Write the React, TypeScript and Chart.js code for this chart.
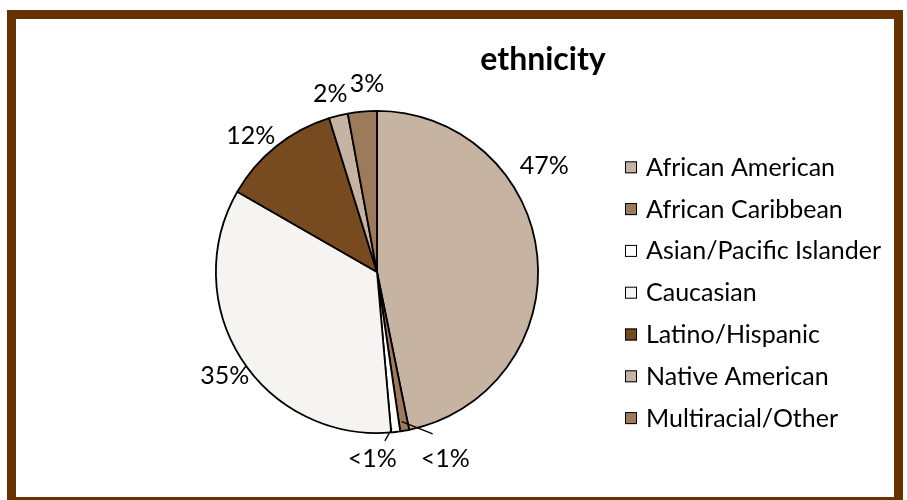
import React, { useEffect, useRef } from "react";
import { Chart, registerables } from "chart.js";

Chart.register(...registerables);

// ---- data ----
const chartTitle = "ethnicity";
const categories = [
  "African American",
  "African Caribbean",
  "Asian/Pacific Islander",
  "Caucasian",
  "Latino/Hispanic",
  "Native American",
  "Multiracial/Other",
];
const shares = [46.8, 0.9, 0.9, 34.7, 11.9, 1.9, 2.9];
const sliceColors = ["#C6B3A2", "#9C7A5B", "#FFFFFF", "#F6F4F1", "#774A1F", "#C6B3A2", "#9C7A5B"];

// ---- layout / styling ----
const FONT = "Lato, 'DejaVu Sans', sans-serif";
// [angle offset from slice middle (deg), extra distance beyond radius (px)]
const labelLayout: [number, number][] = [
  [-26.8, 37.5],
  [-10.3, 36.7],
  [8.1, 24.6],
  [-1.5, 22.7],
  [-4.0, 25],
  [-0.8, 23.5],
  [2.2, 27.8],
];
// leader lines: [startAngleOffset, startDr, endAngleOffset, endDr] or null
const leaders: ([number, number, number, number] | null)[] = [
  null,
  [0.5, -9.5, -9.1, 10],
  [1.2, -4, 4, 8],
  null,
  null,
  null,
  null,
];

function pctLabel(v: number, total: number): string {
  const p = (v / total) * 100;
  return p < 1 ? "<1%" : Math.round(p) + "%";
}

const overlayPlugin = {
  id: "overlay",
  afterDraw(chart: any) {
    const ctx: CanvasRenderingContext2D = chart.ctx;
    const meta = chart.getDatasetMeta(0);
    const data = chart.data.datasets[0].data as number[];
    const total = data.reduce((a, b) => a + b, 0);
    ctx.save();

    // title
    ctx.fillStyle = "#000";
    ctx.font = `bold 32px ${FONT}`;
    ctx.textAlign = "center";
    ctx.textBaseline = "alphabetic";
    ctx.fillText(chartTitle, 543, 70);

    // percentage labels
    ctx.font = `25px ${FONT}`;
    meta.data.forEach((arc: any, i: number) => {
      const { x, y, startAngle, endAngle, outerRadius } = arc.getProps(
        ["x", "y", "startAngle", "endAngle", "outerRadius"],
        true
      );
      const mid = (startAngle + endAngle) / 2;
      const [dA, dR] = labelLayout[i];
      const a = mid + (dA * Math.PI) / 180;
      const r = outerRadius + dR;
      const lx = x + Math.cos(a) * r;
      const ly = y + Math.sin(a) * r;
      ctx.fillStyle = "#000";
      ctx.textAlign = "center";
      ctx.fillText(pctLabel(data[i], total), lx, ly + 9);
      const ld = leaders[i];
      if (ld) {
        const a1 = mid + (ld[0] * Math.PI) / 180;
        const a2 = mid + (ld[2] * Math.PI) / 180;
        const r1 = outerRadius + ld[1];
        const r2 = outerRadius + ld[3];
        ctx.beginPath();
        ctx.moveTo(x + Math.cos(a1) * r1, y + Math.sin(a1) * r1);
        ctx.lineTo(x + Math.cos(a2) * r2, y + Math.sin(a2) * r2);
        ctx.strokeStyle = "#000";
        ctx.lineWidth = 1.3;
        ctx.stroke();
      }
    });

    // legend
    const lx0 = 625;
    const ly0 = 167.3;
    const step = 41.8;
    ctx.font = `25px ${FONT}`;
    ctx.textAlign = "left";
    chart.data.labels.forEach((lab: string, i: number) => {
      const cy = ly0 + i * step;
      const colors = chart.data.datasets[0].backgroundColor as string[];
      ctx.fillStyle = colors[i];
      ctx.fillRect(lx0, cy - 6, 12, 12);
      ctx.strokeStyle = "#000";
      ctx.lineWidth = 1;
      ctx.strokeRect(lx0 + 0.5, cy - 5.5, 11, 11);
      ctx.fillStyle = "#000";
      ctx.fillText(lab, 646, cy + 8.5);
    });
    ctx.restore();
  },
};

export default function App() {
  const ref = useRef<HTMLCanvasElement | null>(null);
  useEffect(() => {
    if (!ref.current) return;
    const chart = new Chart(ref.current, {
      type: "pie",
      data: {
        labels: categories,
        datasets: [
          {
            data: shares,
            backgroundColor: sliceColors,
            borderColor: "#000",
            borderWidth: 1.8,
          },
        ],
      },
      options: {
        animation: false,
        responsive: false,
        devicePixelRatio: 1,
        layout: { padding: { left: 215, right: 368, top: 110, bottom: 66 } },
        plugins: {
          legend: { display: false },
          tooltip: { enabled: false },
          title: { display: false },
        },
      },
      plugins: [overlayPlugin],
    });
    return () => chart.destroy();
  }, []);

  return (
    <div style={{ position: "fixed", left: 0, top: 0, width: 907, height: 500, background: "#fff" }}>
      <div
        style={{
          position: "absolute",
          left: 7,
          top: 10,
          width: 896,
          height: 496,
          boxSizing: "border-box",
          border: "9px solid #663300",
        }}
      />
      <canvas
        ref={ref}
        width={907}
        height={500}
        style={{ position: "absolute", left: 0, top: 0, width: 907, height: 500 }}
      />
    </div>
  );
}
